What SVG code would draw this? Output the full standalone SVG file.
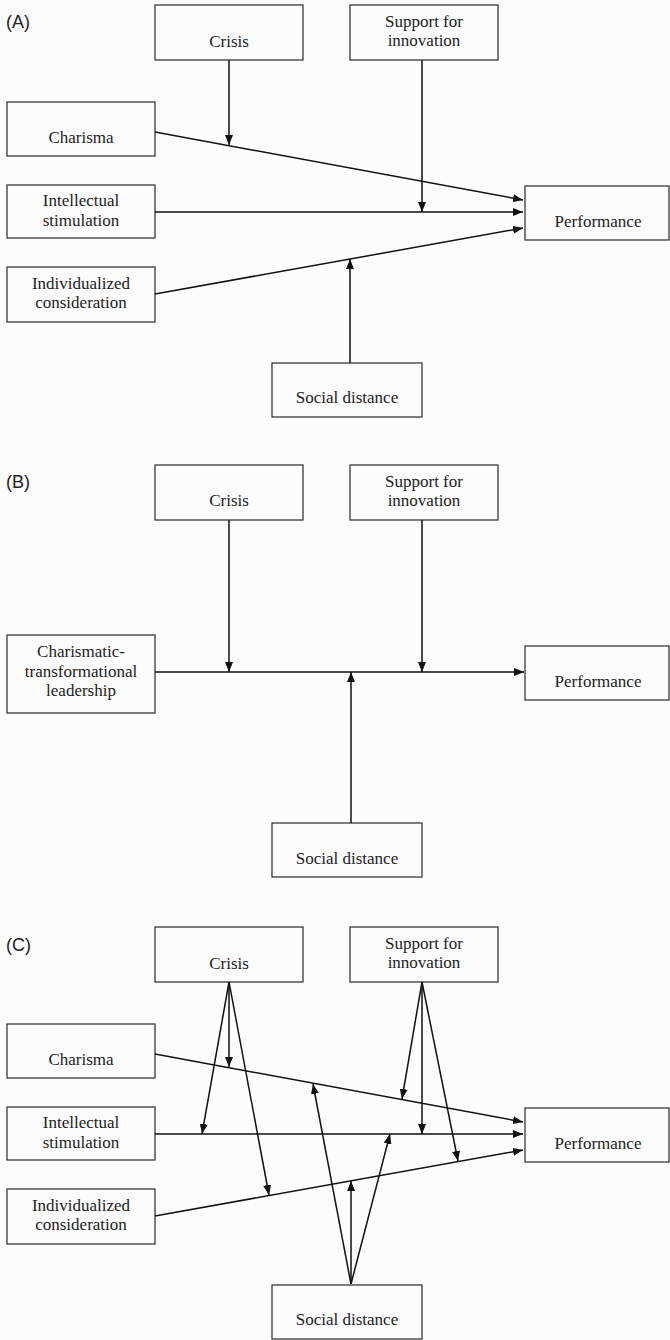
<svg xmlns="http://www.w3.org/2000/svg" width="670" height="1340" viewBox="0 0 670 1340">
<defs>
<marker id="arr" markerUnits="userSpaceOnUse" markerWidth="10" markerHeight="8" viewBox="0 0 10 8" refX="10" refY="4" orient="auto"><path d="M0,0 L10,4 L0,8 z" fill="#111"/></marker>
</defs>
<style>
.box{fill:none;stroke:#3a3a3a;stroke-width:1.3}
.lbl{font-size:17px;fill:#222;text-anchor:middle}
.pl{font-size:18px;fill:#222}
.c{stroke:#111;stroke-width:1.5;fill:none;marker-end:url(#arr)}
</style>
<rect x="0" y="0" width="670" height="1340" fill="#fcfcfc"/>
<g font-family="Liberation Serif, Times New Roman, DejaVu Serif, serif">
<!-- Panel A -->
<g id="panelA">
<text class="pl" x="6" y="28" font-family="Liberation Sans, Arial, sans-serif">(A)</text>
<g id="A-crisis"><rect class="box" x="155" y="5" width="148" height="55"/><text class="lbl" x="229" y="47">Crisis</text></g>
<g id="A-support"><rect class="box" x="350" y="5" width="148" height="55"/><text class="lbl" x="424" y="27">Support for</text><text class="lbl" x="424" y="46">innovation</text></g>
<g id="A-charisma"><rect class="box" x="7" y="102" width="148" height="54"/><text class="lbl" x="81" y="143">Charisma</text></g>
<g id="A-intellectual"><rect class="box" x="7" y="185" width="148" height="53"/><text class="lbl" x="81" y="206">Intellectual</text><text class="lbl" x="81" y="226">stimulation</text></g>
<g id="A-individualized"><rect class="box" x="7" y="267" width="148" height="55"/><text class="lbl" x="81" y="289">Individualized</text><text class="lbl" x="81" y="308">consideration</text></g>
<g id="A-performance"><rect class="box" x="525" y="186" width="144" height="54"/><text class="lbl" x="598" y="227">Performance</text></g>
<g id="A-social"><rect class="box" x="272" y="363" width="150" height="54"/><text class="lbl" x="347" y="403">Social distance</text></g>
<g id="A-connectors">
<line class="c" x1="155" y1="132" x2="523" y2="200"/>
<line class="c" x1="155" y1="212" x2="523" y2="212"/>
<line class="c" x1="155" y1="294" x2="523" y2="228"/>
<line class="c" x1="229" y1="60" x2="229" y2="145"/>
<line class="c" x1="422" y1="60" x2="422" y2="212"/>
<line class="c" x1="350" y1="363" x2="350" y2="259"/>
</g>
</g>

<!-- Panel B -->
<g id="panelB">
<text class="pl" x="6" y="488" font-family="Liberation Sans, Arial, sans-serif">(B)</text>
<g id="B-crisis"><rect class="box" x="155" y="465" width="148" height="55"/><text class="lbl" x="229" y="506">Crisis</text></g>
<g id="B-support"><rect class="box" x="350" y="465" width="148" height="55"/><text class="lbl" x="424" y="487">Support for</text><text class="lbl" x="424" y="506">innovation</text></g>
<g id="B-leadership"><rect class="box" x="7" y="635" width="148" height="78"/><text class="lbl" x="81" y="657">Charismatic-</text><text class="lbl" x="81" y="677">transformational</text><text class="lbl" x="81" y="696">leadership</text></g>
<g id="B-performance"><rect class="box" x="525" y="646" width="144" height="54"/><text class="lbl" x="598" y="687">Performance</text></g>
<g id="B-social"><rect class="box" x="272" y="823" width="150" height="54"/><text class="lbl" x="347" y="864">Social distance</text></g>
<g id="B-connectors">
<line class="c" x1="155" y1="672" x2="524" y2="672"/>
<line class="c" x1="229" y1="520" x2="229" y2="672"/>
<line class="c" x1="422" y1="520" x2="422" y2="672"/>
<line class="c" x1="351" y1="823" x2="351" y2="672"/>
</g>
</g>

<!-- Panel C -->
<g id="panelC" transform="translate(0,922)">
<text class="pl" x="6" y="29" font-family="Liberation Sans, Arial, sans-serif">(C)</text>
<g id="C-crisis"><rect class="box" x="155" y="5" width="148" height="55"/><text class="lbl" x="229" y="47">Crisis</text></g>
<g id="C-support"><rect class="box" x="350" y="5" width="148" height="55"/><text class="lbl" x="424" y="27">Support for</text><text class="lbl" x="424" y="46">innovation</text></g>
<g id="C-charisma"><rect class="box" x="7" y="102" width="148" height="54"/><text class="lbl" x="81" y="143">Charisma</text></g>
<g id="C-intellectual"><rect class="box" x="7" y="185" width="148" height="53"/><text class="lbl" x="81" y="206">Intellectual</text><text class="lbl" x="81" y="226">stimulation</text></g>
<g id="C-individualized"><rect class="box" x="7" y="267" width="148" height="55"/><text class="lbl" x="81" y="289">Individualized</text><text class="lbl" x="81" y="308">consideration</text></g>
<g id="C-performance"><rect class="box" x="525" y="186" width="144" height="54"/><text class="lbl" x="598" y="227">Performance</text></g>
<g id="C-social"><rect class="box" x="272" y="363" width="150" height="54"/><text class="lbl" x="347" y="403">Social distance</text></g>
<g id="C-connectors">
<line class="c" x1="155" y1="132" x2="523" y2="200"/>
<line class="c" x1="155" y1="212" x2="523" y2="212"/>
<line class="c" x1="155" y1="294" x2="523" y2="228"/>
<line class="c" x1="229" y1="60" x2="229" y2="145"/>
<line class="c" x1="229" y1="60" x2="202" y2="212"/>
<line class="c" x1="229" y1="60" x2="269" y2="273"/>
<line class="c" x1="422" y1="60" x2="402" y2="177"/>
<line class="c" x1="422" y1="60" x2="422" y2="212"/>
<line class="c" x1="422" y1="60" x2="458" y2="239"/>
<line class="c" x1="351" y1="362" x2="313" y2="162"/>
<line class="c" x1="351" y1="362" x2="351" y2="259"/>
<line class="c" x1="351" y1="362" x2="390" y2="212"/>
</g>
</g>
</g>
</svg>
